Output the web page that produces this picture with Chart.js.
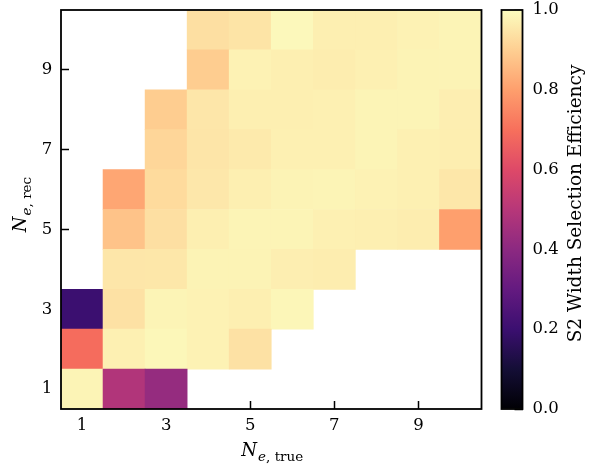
<!DOCTYPE html>
<html>
<head>
<meta charset="utf-8">
<script src="https://cdn.jsdelivr.net/npm/chart.js@4.4.0/dist/chart.umd.min.js"></script>
<style>
  html, body { margin: 0; padding: 0; background: #fff; }
  #wrap { position: relative; width: 589px; height: 470px; }
  #heat { position: absolute; left: 0; top: 0; width: 589px; height: 470px; }
  #cbar { position: absolute; left: 480px; top: 0; width: 109px; height: 470px; }
</style>
</head>
<body>
<div id="wrap">
  <canvas id="heat" width="589" height="470"></canvas>
  <canvas id="cbar" width="109" height="470"></canvas>
</div>
<script>
// N_e,true bins (x) and N_e,rec bins (y)
const nTrue = [1, 2, 3, 4, 5, 6, 7, 8, 9, 10];
const nRec = [1, 2, 3, 4, 5, 6, 7, 8, 9, 10];

// efficiency per N_rec row, one entry per N_true bin, null = empty bin
const effRec1  = [0.980, 0.485, 0.420, null, null, null, null, null, null, null];
const effRec2  = [0.690, 0.972, 0.987, 0.975, 0.940, null, null, null, null, null];
const effRec3  = [0.200, 0.940, 0.980, 0.975, 0.970, 0.985, null, null, null, null];
const effRec4  = [null, 0.950, 0.952, 0.978, 0.978, 0.968, 0.965, null, null, null];
const effRec5  = [null, 0.875, 0.935, 0.970, 0.980, 0.980, 0.972, 0.970, 0.965, 0.800];
const effRec6  = [null, 0.815, 0.925, 0.953, 0.970, 0.978, 0.980, 0.975, 0.972, 0.952];
const effRec7  = [null, null, 0.915, 0.948, 0.958, 0.972, 0.972, 0.980, 0.972, 0.967];
const effRec8  = [null, null, 0.895, 0.950, 0.970, 0.970, 0.972, 0.980, 0.980, 0.968];
const effRec9  = [null, null, null, 0.895, 0.975, 0.970, 0.965, 0.972, 0.978, 0.978];
const effRec10 = [null, null, null, 0.935, 0.945, 0.990, 0.970, 0.970, 0.975, 0.980];
const efficiency = [effRec1, effRec2, effRec3, effRec4, effRec5, effRec6, effRec7, effRec8, effRec9, effRec10];

const axisTicks = [1, 3, 5, 7, 9];
const cbarTicks = [0, 0.2, 0.4, 0.6, 0.8, 1.0];

// magma colormap, sampled every 0.1
const MAGMA = ['#000004', '#140e36', '#3b0f70', '#641a80', '#8c2981', '#b73779',
               '#de4968', '#f7705c', '#fe9f6d', '#fecf92', '#fcfdbf'];

function hexRgb(h) {
  return [1, 3, 5].map(i => parseInt(h.substr(i, 2), 16));
}

function magma(v) {
  const t = Math.min(1, Math.max(0, v)) * (MAGMA.length - 1);
  const i = Math.min(Math.floor(t), MAGMA.length - 2);
  const f = t - i;
  const a = hexRgb(MAGMA[i]), b = hexRgb(MAGMA[i + 1]);
  const c = a.map((x, k) => Math.round(x + (b[k] - x) * f));
  return 'rgb(' + c.join(',') + ')';
}

const FONT = "'DejaVu Serif', 'Liberation Serif', serif";

// black box round the plot area
const frame = {
  id: 'frame',
  afterDraw(chart) {
    const a = chart.chartArea;
    const ctx = chart.ctx;
    ctx.save();
    ctx.strokeStyle = '#000';
    ctx.lineWidth = 1.8;
    ctx.strokeRect(a.left, a.top, a.right - a.left, a.bottom - a.top);
    ctx.restore();
  }
};

// draw N_{e,sub} style label: big italic N, smaller subscript
function mathLabel(ctx, sub, cx, cy, rot) {
  const big = 'italic 18px ' + FONT;
  const subI = 'italic 13.5px ' + FONT;
  const subR = '13.5px ' + FONT;
  ctx.save();
  ctx.translate(cx, cy);
  ctx.rotate(rot);
  ctx.fillStyle = '#000';
  ctx.textBaseline = 'alphabetic';
  ctx.font = big; const wN = ctx.measureText('N').width;
  ctx.font = subI; const wE = ctx.measureText('e').width;
  ctx.font = subR; const wS = ctx.measureText(', ' + sub).width;
  let x = -(wN + 1 + wE + wS) / 2;
  ctx.font = big; ctx.fillText('N', x, 6); x += wN + 1;
  ctx.font = subI; ctx.fillText('e', x, 10.5); x += wE;
  ctx.font = subR; ctx.fillText(', ' + sub, x, 10.5);
  ctx.restore();
}

const axisTitles = {
  id: 'axisTitles',
  afterDraw(chart) {
    const a = chart.chartArea;
    const ctx = chart.ctx;
    mathLabel(ctx, 'true', (a.left + a.right) / 2 + 1, a.bottom + 41, 0);
    mathLabel(ctx, 'rec', a.left - 41, (a.top + a.bottom) / 2 - 5, -Math.PI / 2);
  }
};

// keep the plot box where the reference has it
function fixBox(size, vertical) {
  return s => {
    if (vertical) s.width = size; else s.height = size;
    s.paddingTop = 0; s.paddingBottom = 0; s.paddingLeft = 0; s.paddingRight = 0;
  };
}

const datasets = nRec.map((rec, r) => ({
  data: nTrue
    .map((t, c) => ({ x: t, y: [rec - 0.5, rec + 0.5], v: efficiency[r][c] }))
    .filter(d => d.v !== null),
  backgroundColor: ctx => (ctx.raw ? magma(ctx.raw.v) : 'rgba(0,0,0,0)'),
  borderWidth: 0,
  grouped: false,
  barPercentage: 1,
  categoryPercentage: 1
}));

const tickFont = { family: FONT, size: 16.5 };

new Chart(document.getElementById('heat'), {
  type: 'bar',
  data: { datasets: datasets },
  options: {
    responsive: false,
    animation: false,
    layout: { padding: { left: 0, top: 10, right: 107.5, bottom: 0 } },
    plugins: { legend: { display: false }, tooltip: { enabled: false } },
    scales: {
      x: {
        type: 'linear', min: 0.5, max: 10.5, offset: false, z: 1,
        afterBuildTicks: s => { s.ticks = axisTicks.map(v => ({ value: v })); },
        afterFit: fixBox(61, false),
        grid: { drawOnChartArea: false, offset: false, tickLength: -8, tickWidth: 1.5, tickColor: '#000' },
        border: { display: false },
        ticks: { color: '#000', font: tickFont, padding: 14.5, maxRotation: 0, autoSkip: false }
      },
      y: {
        type: 'linear', min: 0.5, max: 10.5, z: 1,
        afterBuildTicks: s => { s.ticks = axisTicks.map(v => ({ value: v })); },
        afterFit: fixBox(61, true),
        grid: { drawOnChartArea: false, tickLength: -8, tickWidth: 1.5, tickColor: '#000' },
        border: { display: false },
        ticks: { color: '#000', font: tickFont, padding: 16.7, autoSkip: false }
      }
    }
  },
  plugins: [frame, axisTitles]
});

// colorbar
const cbarTitle = {
  id: 'cbarTitle',
  afterDraw(chart) {
    const a = chart.chartArea;
    const ctx = chart.ctx;
    ctx.save();
    ctx.translate(a.right + 58.5, (a.top + a.bottom) / 2 - 6);
    ctx.rotate(-Math.PI / 2);
    ctx.font = '18.5px ' + FONT;
    ctx.fillStyle = '#000';
    ctx.textAlign = 'center';
    ctx.textBaseline = 'alphabetic';
    ctx.fillText('S2 Width Selection Efficiency', 0, 0);
    ctx.restore();
  }
};

new Chart(document.getElementById('cbar'), {
  type: 'bar',
  data: {
    labels: [''],
    datasets: [{
      data: [[cbarTicks[0], cbarTicks[cbarTicks.length - 1]]],
      backgroundColor: ctx => {
        const a = ctx.chart.chartArea;
        if (!a) return 'rgba(0,0,0,0)';
        const g = ctx.chart.ctx.createLinearGradient(0, a.bottom, 0, a.top);
        MAGMA.forEach((c, i) => g.addColorStop(i / (MAGMA.length - 1), c));
        return g;
      },
      borderWidth: 0,
      barPercentage: 1,
      categoryPercentage: 1
    }]
  },
  options: {
    responsive: false,
    animation: false,
    layout: { padding: { left: 21.5, top: 10, right: 0, bottom: 61 } },
    plugins: { legend: { display: false }, tooltip: { enabled: false } },
    scales: {
      x: { display: false },
      y: {
        position: 'right', min: 0, max: 1, z: 1,
        afterBuildTicks: s => { s.ticks = cbarTicks.map(v => ({ value: v })); },
        afterFit: fixBox(66.5, true),
        grid: { drawOnChartArea: false, tickLength: -8, tickWidth: 1.5, tickColor: '#000' },
        border: { display: false },
        ticks: { color: '#000', font: tickFont, padding: 18, callback: v => v.toFixed(1) }
      }
    }
  },
  plugins: [frame, cbarTitle]
});
</script>
</body>
</html>
